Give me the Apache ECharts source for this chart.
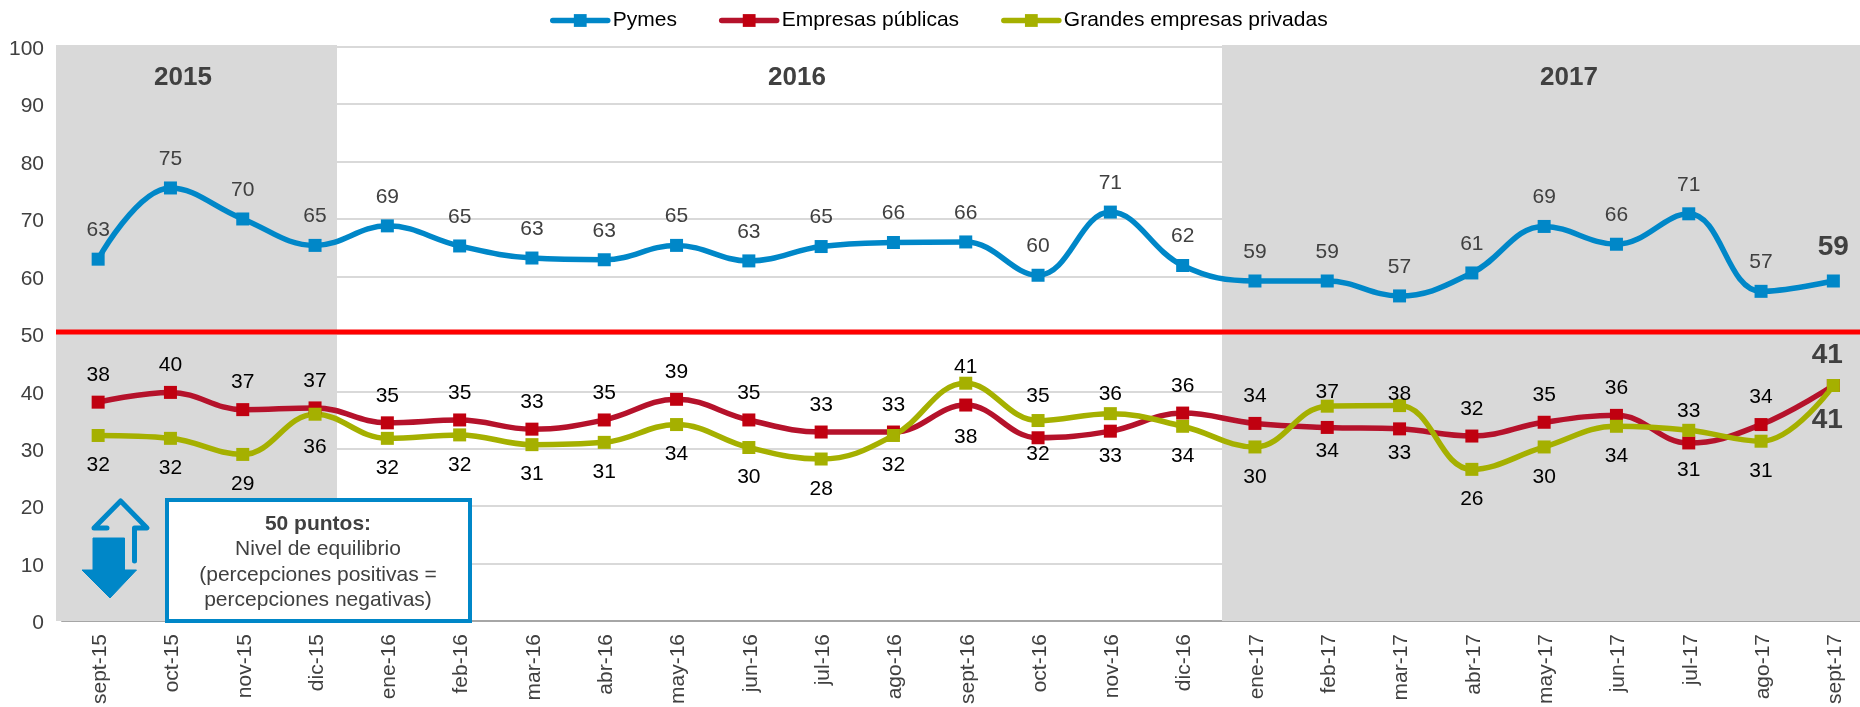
<!DOCTYPE html>
<html><head><meta charset="utf-8">
<style>html,body{margin:0;padding:0;background:#fff;overflow:hidden;width:1860px;height:707px}#c{width:1880px;height:707px}</style>
<script src="https://cdn.jsdelivr.net/npm/echarts@6/dist/echarts.min.js"></script>
</head><body><div id="c"></div>
<script>
const categories = ['sept-15','oct-15','nov-15','dic-15','ene-16','feb-16','mar-16','abr-16','may-16','jun-16','jul-16','ago-16','sept-16','oct-16','nov-16','dic-16','ene-17','feb-17','mar-17','abr-17','may-17','jun-17','jul-17','ago-17','sept-17'];
const pymes = [63,75.4,70,65.4,68.8,65.3,63.2,62.9,65.4,62.7,65.2,65.9,66,60.2,71.2,61.9,59.2,59.2,56.6,60.6,68.7,65.6,70.9,57.4,59.2];
const publicas = [38.1,39.8,36.8,37.1,34.5,35,33.4,35,38.6,35,32.9,32.9,37.6,31.9,33.05,36.2,34.4,33.7,33.45,32.2,34.6,35.8,31,34.2,41];
const privadas = [32.3,31.8,29,36,31.8,32.4,30.7,31.1,34.2,30.2,28.2,32.3,41.4,34.9,36.1,33.9,30.3,37.4,37.5,26.4,30.3,33.9,33.2,31.3,41];
const publicasBelow = ['sept-16','oct-16','nov-16','feb-17','mar-17','jul-17'];
const publicasShift = {'sept-16':3,'oct-16':-13,'nov-16':-4,'feb-17':-5,'mar-17':-5,'jul-17':-2};
const privadasShift = {'dic-15':4,'sept-16':13,'oct-16':5,'nov-16':10,'feb-17':15,'mar-17':18,'jul-17':10};
const yearLabels = ['2015','2016','2017'];
const noteLines = ['50 puntos:','Nivel de equilibrio','(percepciones positivas =','percepciones negativas)'];

const BLUE='#0087c8', RED='#b5122b', REDM='#c00010', OLIVE='#a5b000', GREY='#404040', FS=21;
const last = categories.length-1;
function items(vals, posFn, key, baseShift, shifts){
  return vals.map((v,i)=>({value:v,label:{
    position:posFn(i),
    offset:[0,(shifts&&shifts[categories[i]]!==undefined)?shifts[categories[i]]:baseShift(i)],
    ...(i===last?{fontWeight:'bold',fontSize:28,color:GREY,offset:key==='p'?[0,-1]:[-6,2]}:{})
  }}));
}
function series(name,vals,lineC,markC,posFn,labC,key,baseShift,shifts){
  return {name,type:'line',data:items(vals,posFn,key,baseShift,shifts),smooth:0.4,symbol:'rect',symbolSize:13,
    lineStyle:{color:lineC,width:5.5,cap:'round'},itemStyle:{color:markC},
    label:{show:true,distance:12,fontSize:FS,fontFamily:'Liberation Sans',color:labC,formatter:p=>String(Math.round(p.value))},
    emphasis:{disabled:true},z:3};
}
const chart = echarts.init(document.getElementById('c'),null,{renderer:'canvas'});
const F='Liberation Sans';
const bandStyle={fill:'#d9d9d9'};
const txt=(t,x,y,o)=>({type:'text',z:4,style:{text:t,x,y,align:'center',verticalAlign:'middle',fontFamily:F,fontSize:21,fill:GREY,...o}});
const legendNames=['Pymes','Empresas públicas','Grandes empresas privadas'];
const opt={
  animation:false,
  textStyle:{fontFamily:F},
  legend:{left:545,top:5,itemWidth:55,itemHeight:16,itemGap:42,textStyle:{fontSize:21,fontFamily:F,color:'#000'},
    lineStyle:{width:5.5,cap:'round'},data:legendNames},
  grid:{left:62,top:46.7,width:1807.5,height:576},
  xAxis:{type:'category',data:categories,axisTick:{show:false},axisLine:{lineStyle:{color:'#a6a6a6',width:2}},
    axisLabel:{rotate:90,margin:13,interval:0,formatter:'{a|{value}}',
      rich:{a:{fontSize:FS,fontFamily:F,color:GREY,padding:[4,0,0,0]}}}},
  yAxis:{type:'value',min:0,max:100,interval:10,axisLine:{show:false},axisTick:{show:false},
    splitLine:{lineStyle:{color:'#d9d9d9',width:2}},
    axisLabel:{margin:18,formatter:'{a|{value}}',
      rich:{a:{fontSize:FS,fontFamily:F,color:GREY,padding:[5,0,0,0]}}}},
  series:[
    series('Pymes',pymes,BLUE,BLUE,()=>'top',GREY,'p',()=>0),
    series('Empresas públicas',publicas,RED,REDM,i=>publicasBelow.includes(categories[i])?'bottom':'top','#000','q',()=>2,publicasShift),
    series('Grandes empresas privadas',privadas,OLIVE,OLIVE,i=>(publicasBelow.includes(categories[i]))?'top':'bottom','#000','r',()=>1,privadasShift)
  ]
};
chart.setOption(opt);
const y50=chart.convertToPixel({yAxisIndex:0},50.3);
chart.setOption({graphic:[
  {type:'rect',z:1,shape:{x:56,y:45,width:281,height:576},style:bandStyle},
  {type:'rect',z:1,shape:{x:1222,y:45,width:658,height:576},style:bandStyle},
  {type:'line',z:2,shape:{x1:56,y1:y50,x2:1880,y2:y50},style:{stroke:'#ff0000',lineWidth:5}},
  txt(yearLabels[0],183,78,{fontWeight:'bold',fontSize:26}),
  txt(yearLabels[1],797,78,{fontWeight:'bold',fontSize:26}),
  txt(yearLabels[2],1569,78,{fontWeight:'bold',fontSize:26}),
  {type:'rect',z:4,shape:{x:167,y:500,width:303,height:121},style:{fill:'#fff',stroke:BLUE,lineWidth:4}},
  txt(noteLines[0],318,524,{fontWeight:'bold'}),
  txt(noteLines[1],318,549),
  txt(noteLines[2],318,575),
  txt(noteLines[3],318,600),
  {type:'polygon',z:4,shape:{points:[[93,538],[124.5,538],[124.5,570],[136.5,570],[110,598],[82,570],[93,570]]},style:{fill:BLUE,stroke:BLUE,lineWidth:1,lineJoin:'round'}},
  {type:'polyline',z:4,shape:{points:[[107,528],[94,528],[120.6,501],[147,528],[134.5,528],[134.5,561]]},style:{fill:null,stroke:BLUE,lineWidth:5,lineCap:'round',lineJoin:'round'}}
]});
</script></body></html>
